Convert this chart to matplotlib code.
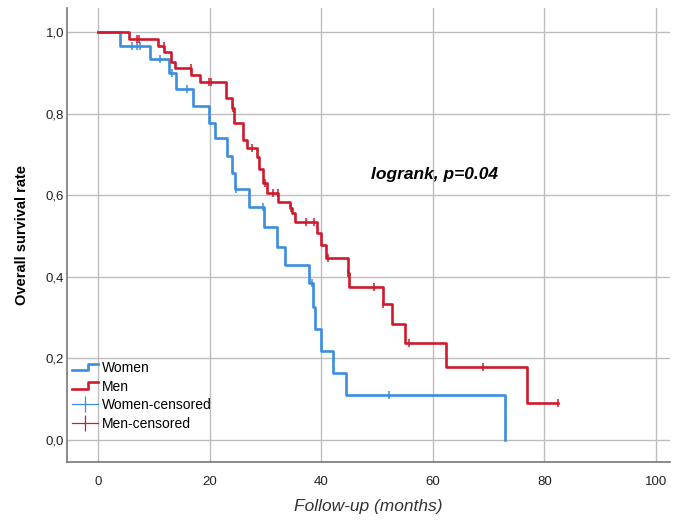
import numpy as np
import matplotlib.pyplot as plt
from matplotlib.lines import Line2D
from matplotlib.legend_handler import HandlerBase

plt.rcParams['font.family'] = ['Liberation Sans', 'DejaVu Sans']

# Kaplan-Meier steps (months, survival after the step)
women_t = [0, 3.9, 9.3, 12.6, 14.0, 16.9, 19.9, 21.0, 23.1, 24.0, 24.6, 27.1, 29.7,
           32.0, 33.4, 37.7, 38.5, 38.8, 40.0, 42.0, 44.5, 73.0]
women_s = [1.0, 0.967, 0.933, 0.90, 0.86, 0.819, 0.777, 0.74, 0.696, 0.654, 0.615, 0.571, 0.522,
           0.473, 0.429, 0.385, 0.326, 0.272, 0.218, 0.164, 0.11, 0.0]
women_cens = [6.1, 7.0, 7.4, 11.1, 13.3, 16.0, 24.7, 29.5, 38.4, 52.2]

men_t = [0, 5.6, 10.8, 11.8, 13.0, 13.8, 16.7, 18.3, 22.9, 23.9, 24.4, 26.0, 26.7, 28.4, 28.9,
         29.6, 30.3, 32.3, 34.3, 34.8, 35.2, 39.3, 40.0, 40.9, 44.7, 44.9, 51.0, 52.6, 55.0,
         62.3, 76.8]
men_s = [1.0, 0.983, 0.966, 0.95, 0.927, 0.912, 0.895, 0.877, 0.838, 0.814, 0.777, 0.735, 0.716,
         0.694, 0.665, 0.63, 0.605, 0.584, 0.568, 0.556, 0.534, 0.507, 0.478, 0.446, 0.41, 0.375,
         0.333, 0.284, 0.238, 0.179, 0.09]
men_cens = [7.0, 7.3, 11.7, 16.6, 19.9, 20.3, 24.2, 27.6, 29.9, 31.4, 32.2, 34.6, 37.3, 38.6,
            41.1, 44.8, 49.5, 51.1, 55.8, 68.9, 82.4]
men_end = 82.4

blue = '#3a8ddf'
red = '#cf1a2e'


def cens_y(times, surv, cens):
    idx = np.searchsorted(times, cens, side='right') - 1
    return np.array(surv)[idx]


class StepHandler(HandlerBase):
    def create_artists(self, legend, orig_handle, xdescent, ydescent, width, height, fontsize, trans):
        x0 = -xdescent
        y0 = -ydescent
        xs = [x0, x0 + 0.62 * width, x0 + 0.62 * width, x0 + width]
        ys = [y0 + 0.2 * height, y0 + 0.2 * height, y0 + 0.85 * height, y0 + 0.85 * height]
        ln = Line2D(xs, ys, color=orig_handle.get_color(), lw=orig_handle.get_linewidth())
        ln.set_transform(trans)
        return [ln]


fig = plt.figure(figsize=(6.79, 5.21), dpi=100)
ax = fig.add_axes([67 / 679, 1 - 462 / 521, 603 / 679, 454 / 521])

w_line, = ax.plot(women_t, women_s, drawstyle='steps-post', color=blue, lw=1.9)
m_line, = ax.plot(men_t + [men_end], men_s + [men_s[-1]], drawstyle='steps-post', color=red, lw=1.9)
ax.plot(women_cens, cens_y(women_t, women_s, women_cens), ls='none', marker='|',
        ms=6, mew=1.1, color=blue)
ax.plot(men_cens, cens_y(men_t, men_s, men_cens), ls='none', marker='|',
        ms=6, mew=1.1, color=red)

ax.set_xlim(-5.6, 102.5)
ax.set_ylim(-0.054, 1.059)
ax.set_xticks([0, 20, 40, 60, 80, 100])
ax.set_yticks([0, 0.2, 0.4, 0.6, 0.8, 1.0])
ax.set_yticklabels(['0,0', '0,2', '0,4', '0,6', '0,8', '1,0'])
ax.tick_params(length=0, labelsize=9.5, colors='#222222')
ax.tick_params(axis='y', pad=2)
ax.tick_params(axis='x', pad=10)
ax.grid(True, color='#bdbdbd', lw=1.0)
ax.set_axisbelow(True)
for s in ['top', 'right']:
    ax.spines[s].set_visible(False)
for s in ['left', 'bottom']:
    ax.spines[s].set_color('#777777')
    ax.spines[s].set_linewidth(1.2)

ax.set_xlabel('Follow-up (months)', fontsize=12.5, style='italic', color='#333333', labelpad=8)
ax.set_ylabel('Overall survival rate', fontsize=10.5, fontweight='bold', labelpad=12)

ax.text(60.3, 0.65, 'logrank, p=0.04', fontsize=12.5, fontweight='bold', style='italic',
        ha='center', va='center')

wc = Line2D([], [], color=blue, lw=0.9, marker='|', ms=12, mew=0.9)
mc = Line2D([], [], color=red, lw=0.9, marker='|', ms=12, mew=0.9)
leg = ax.legend([w_line, m_line, wc, mc], ['Women', 'Men', 'Women-censored', 'Men-censored'],
                handler_map={w_line: StepHandler(), m_line: StepHandler()},
                loc='upper left', bbox_to_anchor=(72 / 679, 1 - 361 / 521),
                bbox_transform=fig.transFigure, frameon=False, fontsize=10,
                borderpad=0, borderaxespad=0, handlelength=1.9, handletextpad=0.25,
                labelspacing=0.33)

fig.savefig('out.png', dpi=100)
